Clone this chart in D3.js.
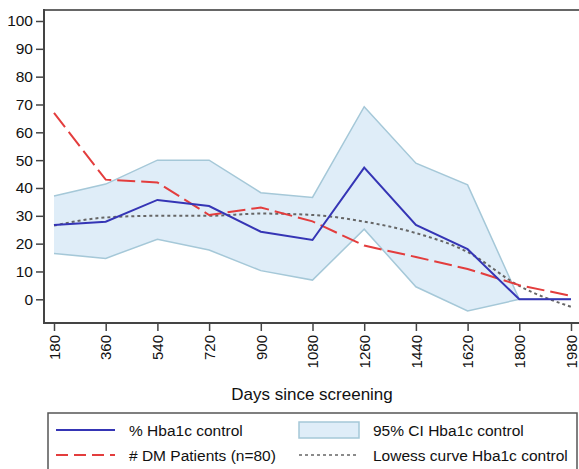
<!DOCTYPE html>
<html>
<head>
<meta charset="utf-8">
<script src="https://cdn.jsdelivr.net/npm/d3@7"></script>
<style>
  body { margin: 0; background: #fff; }
  text { font-family: "Liberation Sans", Arial, sans-serif; fill: #111; }
</style>
</head>
<body>
<div id="chart"></div>
<script>
// chart data
const days = [180, 360, 540, 720, 900, 1080, 1260, 1440, 1620, 1800, 1980];
const hba1c = [26.7, 27.9, 35.7, 33.5, 24.3, 21.3, 47.3, 26.7, 18, 0, 0];
const dmPatients = [67, 43, 42, 30.3, 33, 28, 19.3, 15.2, 10.9, 5.1, 1.2];
const ciUpper = [37.1, 41.4, 50, 50, 38.3, 36.6, 69.2, 48.9, 41.1, 0, 0];
const ciLower = [16.5, 14.7, 21.6, 17.7, 10.3, 6.9, 25.2, 4.5, -4.2, 0, 0];
const lowess = [26.5, 29.4, 30, 30, 30.8, 30.3, 27.9, 23.8, 17, 4.8, -2.7];
const yTicks = [0, 10, 20, 30, 40, 50, 60, 70, 80, 90, 100];

const W = 579, H = 469;
const svg = d3.select("#chart").append("svg").attr("width", W).attr("height", H);

//scales
const x = d3.scaleLinear().domain([180, 1980]).range([54, 571]);
const y = d3.scaleLinear().domain([0, 100]).range([299.3, 21]);
const plotLeft = 44, plotTop = 10, plotBottom = 323;

const pts = days.map((d, i) => ({ d, h: hba1c[i], p: dmPatients[i], lo: ciLower[i], hi: ciUpper[i], lw: lowess[i] }));

// CI band
const area = d3.area().x(d => x(d.d)).y0(d => y(d.lo)).y1(d => y(d.hi));
svg.append("path").datum(pts).attr("d", area).attr("fill", "#dfedf8").attr("stroke", "none");
svg.append("path").datum(pts).attr("d", d3.line().x(d => x(d.d)).y(d => y(d.hi)))
  .attr("fill", "none").attr("stroke", "#a5c8d8").attr("stroke-width", 1.5);
svg.append("path").datum(pts).attr("d", d3.line().x(d => x(d.d)).y(d => y(d.lo)))
  .attr("fill", "none").attr("stroke", "#a5c8d8").attr("stroke-width", 1.5);

// lowess
svg.append("path").datum(pts).attr("d", d3.line().curve(d3.curveMonotoneX).x(d => x(d.d)).y(d => y(d.lw)))
  .attr("fill", "none").attr("stroke", "#666").attr("stroke-width", 2).attr("stroke-dasharray", "3,3");

// DM patients
svg.append("path").datum(pts).attr("d", d3.line().x(d => x(d.d)).y(d => y(d.p)))
  .attr("fill", "none").attr("stroke", "#e33d3d").attr("stroke-width", 2).attr("stroke-dasharray", "18,6");

// hba1c control
svg.append("path").datum(pts).attr("d", d3.line().x(d => x(d.d)).y(d => y(d.h)))
  .attr("fill", "none").attr("stroke", "#3535b5").attr("stroke-width", 2);

// frame
svg.append("line").attr("x1", plotLeft).attr("x2", W).attr("y1", plotTop).attr("y2", plotTop).attr("stroke", "#666").attr("stroke-width", 2);

// y axis
const yAxis = svg.append("g").attr("transform", `translate(${plotLeft},0)`)
  .call(d3.axisLeft(y).tickValues(yTicks).tickSize(8).tickPadding(3).tickSizeOuter(0));
yAxis.select(".domain").remove();
svg.append("line").attr("x1", plotLeft).attr("x2", plotLeft).attr("y1", plotTop - 1).attr("y2", plotBottom + 1).attr("stroke", "#444").attr("stroke-width", 2);
yAxis.selectAll("line").attr("stroke", "#444").attr("stroke-width", 1.5);
yAxis.selectAll("text").style("font-size", "15.5px").attr("fill", "#111");

// x axis
const xAxis = svg.append("g").attr("transform", `translate(0,${plotBottom})`)
  .call(d3.axisBottom(x).tickValues(days).tickFormat(d3.format("d")).tickSize(8).tickSizeOuter(0));
xAxis.select(".domain").remove();
svg.append("line").attr("x1", plotLeft).attr("x2", W).attr("y1", plotBottom).attr("y2", plotBottom).attr("stroke", "#444").attr("stroke-width", 2);
xAxis.selectAll("line").attr("stroke", "#444").attr("stroke-width", 1.5);
xAxis.selectAll("text").style("font-size", "15px").attr("fill", "#111")
  .attr("text-anchor", "end").attr("transform", "rotate(-90)")
  .attr("x", -12).attr("y", 0).attr("dy", "0.35em");

svg.append("text").attr("x", 312).attr("y", 400).attr("text-anchor", "middle")
  .style("font-size", "17px").text("Days since screening");

// legend
const lg = svg.append("g");
lg.append("rect").attr("x", 48).attr("y", 413).attr("width", 529).attr("height", 70)
  .attr("fill", "#fff").attr("stroke", "#555").attr("stroke-width", 1.5);
lg.append("line").attr("x1", 56).attr("x2", 115).attr("y1", 430).attr("y2", 430).attr("stroke", "#3535b5").attr("stroke-width", 2);
lg.append("line").attr("x1", 56).attr("x2", 115).attr("y1", 455).attr("y2", 455).attr("stroke", "#e33d3d").attr("stroke-width", 2).attr("stroke-dasharray", "12,6");
lg.append("rect").attr("x", 299).attr("y", 422).attr("width", 60).attr("height", 16).attr("fill", "#dfedf8").attr("stroke", "#a5c8d8").attr("stroke-width", 1.5);
lg.append("line").attr("x1", 299).attr("x2", 359).attr("y1", 455).attr("y2", 455).attr("stroke", "#666").attr("stroke-width", 1.5).attr("stroke-dasharray", "3,3");
const legendText = [["% Hba1c control", 129, 436], ["# DM Patients (n=80)", 129, 461], ["95% CI Hba1c control", 373, 436], ["Lowess curve Hba1c control", 373, 461]];
legendText.forEach(t => lg.append("text").attr("x", t[1]).attr("y", t[2]).style("font-size", "15.5px").text(t[0]));
</script>
</body>
</html>
